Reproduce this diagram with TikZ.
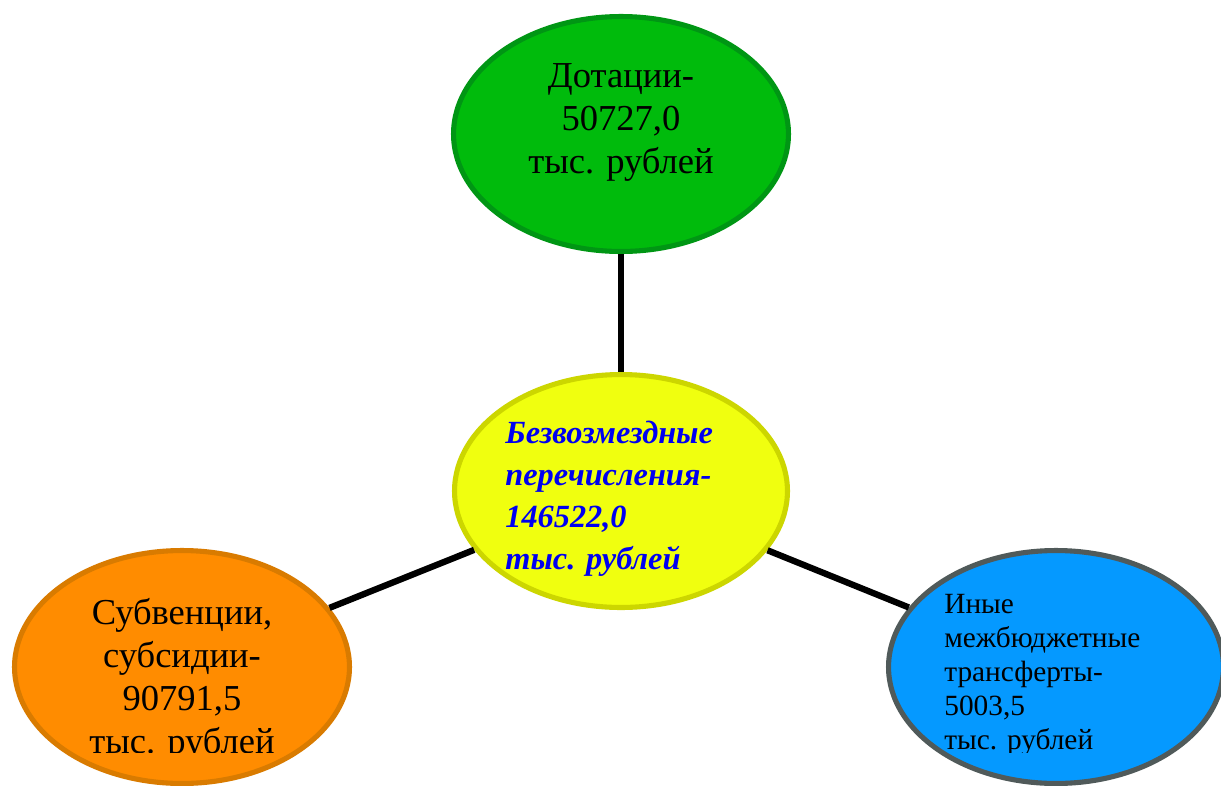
\documentclass[tikz,border=0pt]{standalone}
\usepackage{fontspec}
\setmainfont{Liberation Serif}
\usetikzlibrary{shapes.geometric}
\definecolor{dotfill}{RGB}{0,187,12}
\definecolor{dotline}{RGB}{0,150,20}
\definecolor{totfill}{RGB}{240,255,15}
\definecolor{totline}{RGB}{204,214,0}
\definecolor{subfill}{RGB}{255,140,0}
\definecolor{subline}{RGB}{217,123,0}
\definecolor{inyfill}{RGB}{5,153,255}
\definecolor{inyline}{RGB}{80,90,90}
\definecolor{tottext}{RGB}{0,0,240}
\tikzset{bubble/.style={
		ellipse,
		draw,
		line width=2.9pt,
		inner sep=0pt,
		minimum width=6.7cm,
		minimum height=4.66cm},
	bigtext/.style={inner sep=0pt, align=center, font=\fontsize{20.8}{24.4}\selectfont},
	link/.style={line width=3.6pt, black}}

\begin{document}
\begin{tikzpicture}[x=0.02cm,y=-0.02cm]
	\useasboundingbox (0,0) rectangle (1221,785);
	\clip (0,0) rectangle (1221,785);
	\node[bubble, fill=dotfill, draw=dotline, minimum height=4.7cm] (Dotacii) at (621,134) {};
	\node[bubble, fill=totfill, draw=totline, minimum width=6.66cm] (Total) at (621,491) {};
	\node[bubble, fill=subfill, draw=subline] (Subv) at (182,667) {};
	\node[bubble, fill=inyfill, draw=inyline] (Inye) at (1056,667) {};
	
	\draw[link] (Dotacii) -- (Total);
	\draw[link] (Total) -- (Subv);
	\draw[link] (Total) -- (Inye);
	
	\node[bigtext, anchor=north] (DotText) at (621,63) {Дотации-\\50727,0\\тыс. рублей};
	\node[inner sep=0pt, anchor=north west, align=left, text=tottext,
		font=\fontsize{18.4}{23.8}\selectfont\bfseries\itshape] (TotText) at (505,421)
		{Безвозмездные\\перечисления-\\146522,0\\тыс. рублей};
	\begin{scope}
		\clip (0,0) rectangle (1221,752);
		\node[bigtext, anchor=north] (SubvText) at (182,598) {Субвенции,\\субсидии-\\90791,5\\тыс. рублей};
		\node[inner sep=0pt, anchor=north west, align=left,
			font=\fontsize{16.7}{19.3}\selectfont] (InyeText) at (944,594)
			{Иные\\межбюджетные\\трансферты-\\5003,5\\тыс. рублей};
	\end{scope}
\end{tikzpicture}
\end{document}
